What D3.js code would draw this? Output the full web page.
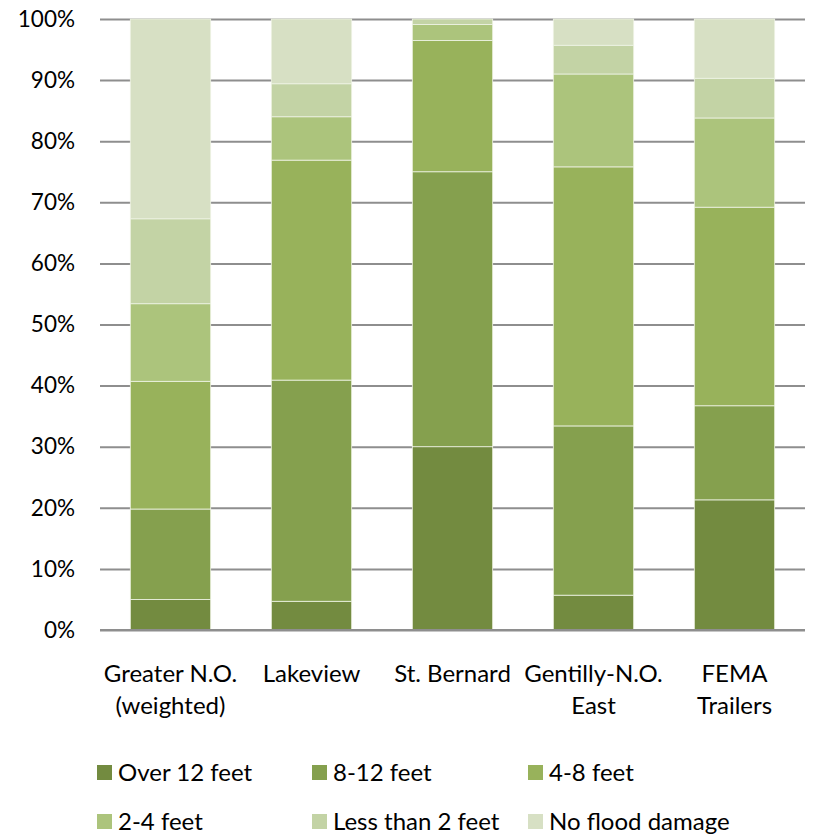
<!DOCTYPE html>
<html>
<head>
<meta charset="utf-8">
<script src="https://cdn.jsdelivr.net/npm/d3@7"></script>
<style>
  body { margin: 0; background: #fff; }
  text { font-family: Lato, "Noto Sans", sans-serif; fill: #000; }
</style>
</head>
<body>
<div id="chart"></div>
<script>
// -------- DATA --------
const categories = ["Greater N.O.|(weighted)", "Lakeview", "St. Bernard", "Gentilly-N.O.|East", "FEMA|Trailers"];
const seriesNames = ["Over 12 feet", "8-12 feet", "4-8 feet", "2-4 feet", "Less than 2 feet", "No flood damage"];
const seriesColors = ["#738b40", "#85a04e", "#98b25b", "#acc47c", "#c3d3a5", "#d7e0c4"];

// Anteile je Kategorie (Prozent), Reihenfolge wie seriesNames
const over12 = [5.0, 4.7, 30.0, 5.7, 21.3];
const ft8to12 = [14.8, 36.2, 45.0, 27.7, 15.4];
const ft4to8 = [20.9, 36.0, 21.5, 42.4, 32.5];
const ft2to4 = [12.7, 7.1, 2.6, 15.2, 14.6];
const lessThan2 = [13.9, 5.4, 0.9, 4.7, 6.5];
const noFlood = [32.7, 10.6, 0.0, 4.3, 9.7];

const yTicks = [0, 10, 20, 30, 40, 50, 60, 70, 80, 90, 100];

// -------- LAYOUT --------
const width = 814, height = 835;
const margins = {top: 19, right: 9, bottom: 205, left: 100};
const labelFont = "24px";

const svg = d3.select("#chart").append("svg")
  .attr("width", width)
  .attr("height", height);

const seriesValues = [over12, ft8to12, ft4to8, ft2to4, lessThan2, noFlood];
const table = categories.map((c, i) => {
  const row = {cat: c};
  seriesNames.forEach((s, j) => row[s] = seriesValues[j][i]);
  return row;
});
const stacked = d3.stack().keys(seriesNames)(table);

const xScale = d3.scaleBand()
  .domain(categories)
  .range([margins.left, width - margins.right])
  .paddingInner(0.43)
  .paddingOuter(0.215);

const yScale = d3.scaleLinear()
  .domain([0, 100])
  .range([height - margins.bottom, margins.top]);

// Gitterlinien
const grid = svg.append("g")
  .attr("transform", `translate(${margins.left},0)`)
  .call(d3.axisLeft(yScale)
    .tickValues(yTicks)
    .tickSize(-(width - margins.left - margins.right))
    .tickFormat(""));
grid.select(".domain").remove();
grid.selectAll(".tick line")
  .attr("stroke", "#8e8e8e")
  .attr("stroke-width", 2);

// Y-Achse Beschriftung
const yAxisG = svg.append("g")
  .attr("transform", `translate(${margins.left},0)`)
  .call(d3.axisLeft(yScale)
    .tickValues(yTicks)
    .tickSize(0)
    .tickPadding(25)
    .tickFormat(d => d + "%"));
yAxisG.select(".domain").remove();
yAxisG.selectAll(".tick text")
  .style("font-size", "22.5px")
  .attr("fill", "#000");

// Balken
svg.append("g").selectAll("g")
  .data(stacked)
  .join("g")
    .attr("fill", (d, i) => seriesColors[i])
  .selectAll("rect")
  .data(d => d)
  .join("rect")
    .attr("x", d => xScale(d.data.cat))
    .attr("width", xScale.bandwidth())
    .attr("y", d => yScale(d[1]))
    .attr("height", d => yScale(d[0]) - yScale(d[1]))
    .attr("stroke", "#eef3e4")
    .attr("stroke-width", 0.8);

// X-Achse (Linie bei 0%)
svg.append("line")
  .attr("x1", margins.left)
  .attr("x2", width - margins.right)
  .attr("y1", yScale(0))
  .attr("y2", yScale(0))
  .attr("stroke", "#8e8e8e")
  .attr("stroke-width", 2);

// Kategorien-Labels (zweizeilig)
const xLabels = svg.append("g").selectAll("text")
  .data(categories)
  .join("text")
    .attr("x", d => xScale(d) + xScale.bandwidth() / 2)
    .attr("y", 682)
    .attr("text-anchor", "middle")
    .style("font-size", labelFont);
xLabels.each(function(d) {
  const parts = d.split("|");
  d3.select(this).selectAll("tspan")
    .data(parts)
    .join("tspan")
      .attr("x", xScale(d) + xScale.bandwidth() / 2)
      .attr("dy", (p, i) => i === 0 ? 0 : 32)
      .text(p => p);
});

// Legende
const legendX = [97, 312, 528];
const legendY = [765, 814];
const legend = svg.append("g").selectAll("g")
  .data(seriesNames)
  .join("g")
    .attr("transform", (d, i) => `translate(${legendX[i % 3]},${legendY[Math.floor(i / 3)]})`);
legend.append("rect")
  .attr("width", 15)
  .attr("height", 15)
  .attr("fill", (d, i) => seriesColors[i]);
legend.append("text")
  .attr("x", 21)
  .attr("y", 16)
  .style("font-size", labelFont)
  .text(d => d);
</script>
</body>
</html>
